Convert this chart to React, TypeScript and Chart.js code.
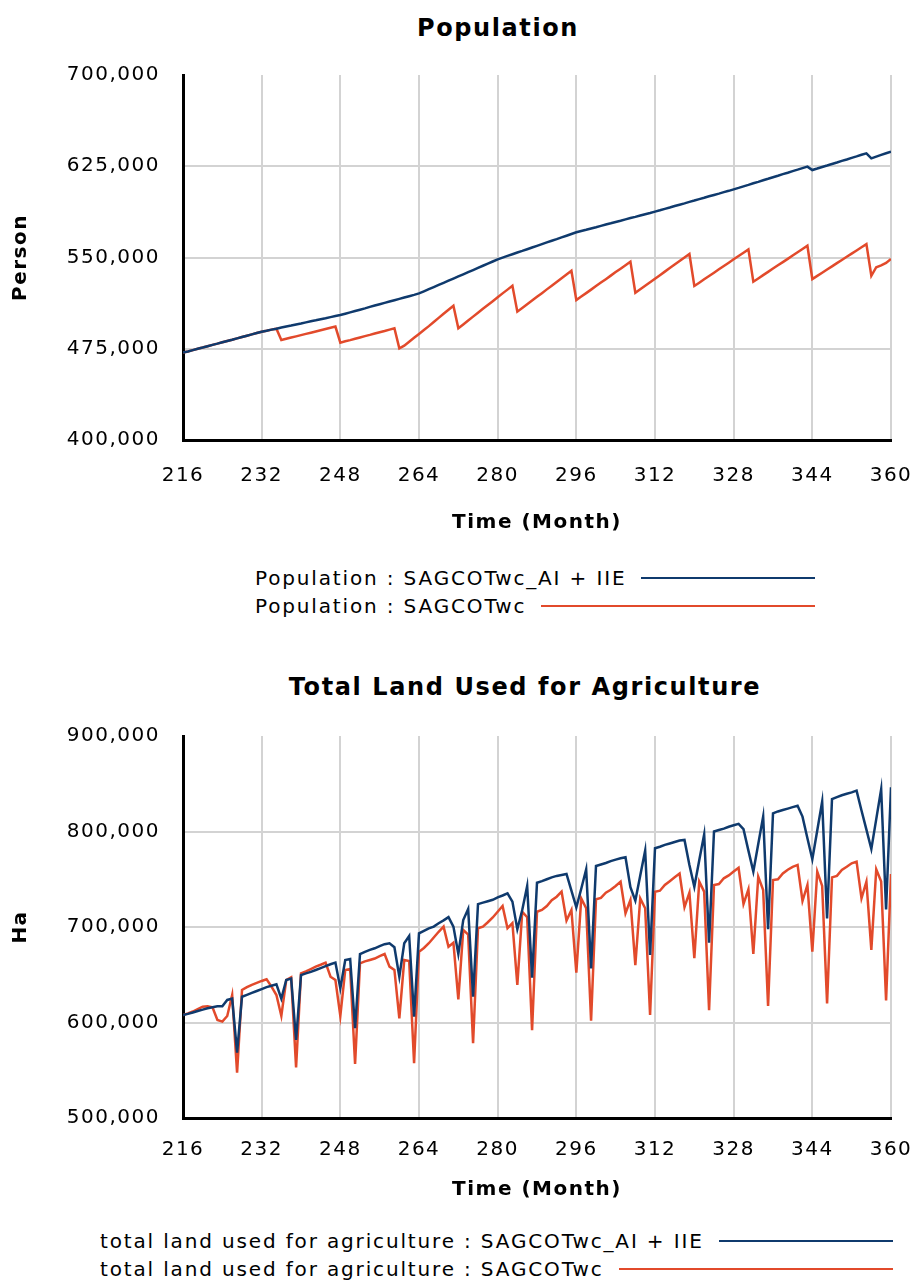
import React, { useEffect, useRef } from "react";
import { Chart, registerables } from "chart.js";

Chart.register(...registerables);

const months: number[] = Array.from({ length: 145 }, (_, i) => 216 + i);
const xTicks = { min: 216, max: 360, step: 16 };

const popWithAI: number[] = [
  471800, 472800, 473900, 475000, 476000, 477100, 478200, 479200, 480300, 481400, 482400, 483500,
  484600, 485700, 486800, 487900, 489000, 489800, 490700, 491500, 492400, 493300, 494100, 495000,
  495800, 496700, 497600, 498400, 499300, 500100, 501000, 501900, 502700, 503800, 504900, 506000,
  507100, 508200, 509400, 510500, 511600, 512700, 513800, 514900, 516000, 517100, 518200, 519300,
  520500, 522200, 524000, 525700, 527500, 529200, 531000, 532700, 534500, 536200, 538000, 539700,
  541500, 543200, 545000, 546700, 548500, 549900, 551300, 552700, 554100, 555400, 556800, 558200,
  559600, 561000, 562400, 563800, 565100, 566500, 567900, 569300, 570700, 571800, 572800, 573900,
  574900, 576000, 577100, 578100, 579200, 580200, 581300, 582400, 583400, 584500, 585600, 586600,
  587700, 588800, 590000, 591100, 592300, 593400, 594500, 595700, 596800, 598000, 599100, 600300,
  601400, 602500, 603700, 604800, 606000, 607200, 608500, 609700, 611000, 612200, 613500, 614700,
  616000, 617200, 618500, 619700, 621000, 622200, 623500, 624700, 621900, 623100, 624400, 625600,
  626900, 628100, 629400, 630600, 631900, 633100, 634400, 635600, 631500, 632900, 634300, 635700,
  637000,
];

const popBase: number[] = [
  471800, 472800, 473900, 475000, 476000, 477100, 478200, 479200, 480300, 481400, 482400, 483500,
  484600, 485700, 486800, 487900, 489000, 489800, 490700, 491500, 482200, 483200, 484200, 485200,
  486200, 487200, 488200, 489200, 490200, 491200, 492200, 493200, 480000, 481100, 482100, 483200,
  484300, 485400, 486400, 487500, 488600, 489600, 490700, 491800, 475300, 477500, 480800, 484000,
  487200, 490400, 493600, 497000, 500400, 503800, 507100, 510400, 491800, 495000, 498200, 501400,
  504600, 507800, 511000, 514100, 517300, 520500, 523600, 526800, 505500, 508500, 511600, 514600,
  517700, 520700, 523800, 526800, 529900, 532900, 536000, 539100, 515000, 517900, 520700, 523600,
  526500, 529400, 532200, 535100, 538000, 540800, 543700, 546600, 521000, 523900, 526800, 529700,
  532600, 535500, 538400, 541300, 544200, 547100, 550000, 552900, 526600, 529300, 532100, 534800,
  537500, 540300, 543000, 545700, 548500, 551200, 553900, 556700, 530100, 532800, 535500, 538200,
  540900, 543600, 546200, 548900, 551600, 554300, 557000, 559700, 532300, 534900, 537500, 540100,
  542700, 545400, 548000, 550600, 553200, 555800, 558400, 561000, 535000, 542000, 543500, 545500,
  548800,
];

const landWithAI: number[] = [
  607800, 609000, 610500, 612000, 613500, 615000, 616000, 617000, 617000, 623600, 625000, 568400,
  627000, 629000, 631000, 633000, 635000, 637000, 638500, 640000, 625000, 644500, 646000, 581700,
  649700, 651500, 653000, 655000, 657000, 659000, 661000, 662700, 635900, 665400, 666500, 594000,
  671700, 674000, 676000, 677700, 680000, 682000, 683000, 678800, 648000, 683000, 690600, 606000,
  693400, 696000, 698500, 700400, 704000, 707000, 710300, 700400, 671700, 707300, 718800, 627000,
  724000, 725500, 727000, 728500, 731000, 733000, 735300, 726600, 697700, 717800, 743000, 647000,
  746400, 748000, 750000, 752000, 753500, 754500, 755500, 738000, 720600, 740000, 760400, 656700,
  763900, 765500, 767000, 769000, 770500, 772000, 773000, 741700, 727600, 754000, 780000, 670700,
  782400, 784000, 786000, 787500, 789000, 790500, 791200, 765000, 742200, 770000, 797000, 683600,
  800000, 801500, 803000, 805000, 806500, 808000, 802400, 780000, 758000, 787000, 815600, 697700,
  819000, 821000, 822500, 824000, 825500, 827000, 815600, 793000, 771000, 801000, 831300, 709000,
  834000, 836000, 838000, 839500, 841000, 842800, 822000, 802000, 781700, 813000, 844200, 718500,
  846300,
];

const landBase: number[] = [
  607800, 609500, 611500, 614000, 616600, 617000, 616000, 602600, 600900, 606800, 628800, 547400,
  634000, 637000, 639500, 641500, 643500, 645200, 637600, 628800, 606800, 644500, 647400, 553000,
  651400, 653500, 656000, 658500, 660500, 662700, 648000, 644500, 606800, 655000, 656000, 556500,
  662000, 664000, 665500, 667000, 669500, 671700, 658500, 655000, 604400, 665400, 664400, 557300,
  674000, 678000, 683000, 689000, 695000, 700400, 679400, 683600, 624300, 696900, 692000, 578300,
  698700, 700400, 705000, 710000, 716000, 722000, 698700, 704000, 639300, 716000, 710200, 592000,
  716000, 717800, 722000, 728000, 731700, 737000, 706700, 717800, 652300, 730000, 719600, 602000,
  729000, 730500, 736000, 739000, 743000, 747500, 714400, 728300, 660000, 730000, 719600, 607800,
  737000, 738000, 744000, 748000, 752000, 756000, 720800, 736000, 667300, 747500, 737000, 613000,
  744000, 745000, 751000, 754000, 758000, 762000, 724000, 739500, 671700, 752700, 738700, 617300,
  749200, 750000, 756000, 760000, 763000, 765000, 727200, 744000, 674200, 758000, 743000, 620000,
  752000, 753500, 759700, 763000, 766700, 768500, 730000, 747500, 676000, 760400, 747500, 623000,
  755500,
];

const BLUE = "#0f3a6d";
const ORANGE = "#e24a2b";
const GRID = "#d3d3d3";
const FONT = "'DejaVu Sans', sans-serif";
const SPACING = "1.5px";

const spacingPlugin = {
  id: "letterSpacing",
  beforeDraw(chart: any) {
    chart.ctx.letterSpacing = SPACING;
  },
  afterDraw(chart: any) {
    chart.ctx.letterSpacing = "0px";
  },
};

type Cfg = {
  dataA: number[];
  dataB: number[];
  labelA: string;
  labelB: string;
  yMin: number;
  yMax: number;
  yStep: number;
  yTitle: string;
  padTop: number;
  padBottom: number;
  xAxisHeight: number;
  xTickPad: number;
};

function makeChart(canvas: HTMLCanvasElement, c: Cfg) {
  return new Chart(canvas, {
    type: "line",
    data: {
      labels: months,
      datasets: [
        { label: c.labelA, data: c.dataA, borderColor: BLUE, backgroundColor: BLUE, borderWidth: 2.5, pointRadius: 0, tension: 0 },
        { label: c.labelB, data: c.dataB, borderColor: ORANGE, backgroundColor: ORANGE, borderWidth: 2.5, pointRadius: 0, tension: 0 },
      ],
    },
    options: {
      responsive: false,
      animation: false,
      devicePixelRatio: 1,
      layout: { padding: { top: c.padTop, right: 31, bottom: c.padBottom, left: 0 } },
      plugins: { legend: { display: false }, title: { display: false }, tooltip: { enabled: false } },
      scales: {
        x: {
          type: "linear",
          min: xTicks.min,
          max: xTicks.max,
          afterFit(scale: any) {
            scale.height = c.xAxisHeight;
            scale.paddingLeft = 0;
            scale.paddingRight = 0;
          },
          ticks: { stepSize: xTicks.step, color: "#000", padding: c.xTickPad, font: { family: FONT, size: 20 }, maxRotation: 0 },
          grid: { color: GRID, lineWidth: 2, drawTicks: false },
          border: { display: true, color: "#000", width: 3 },
          title: { display: true, text: "Time (Month)", color: "#000", font: { family: FONT, size: 20, weight: "bold" }, padding: { top: 0, bottom: 0 } },
        },
        y: {
          min: c.yMin,
          max: c.yMax,
          afterFit(scale: any) {
            scale.width = 183;
            scale.paddingTop = 0;
            scale.paddingBottom = 0;
          },
          ticks: {
            stepSize: c.yStep,
            color: "#000",
            padding: 23,
            font: { family: FONT, size: 20 },
            callback: (v: any) => Number(v).toLocaleString("en-US"),
          },
          grid: {
            lineWidth: 2,
            drawTicks: false,
            color: (ctx: any) => (ctx.tick && ctx.tick.value === c.yMax ? "rgba(0,0,0,0)" : GRID),
          },
          border: { display: true, color: "#000", width: 3 },
          title: { display: true, text: c.yTitle, color: "#000", font: { family: FONT, size: 20, weight: "bold" }, padding: { top: 9, bottom: 0 } },
        },
      },
    },
    plugins: [spacingPlugin],
  } as any);
}

const titleStyle = (cx: number, cy: number): React.CSSProperties => ({
  position: "absolute",
  left: cx,
  top: cy - 15,
  transform: "translateX(-50%)",
  fontFamily: FONT,
  fontWeight: "bold",
  fontSize: 24,
  lineHeight: "30px",
  letterSpacing: "1.6px",
  whiteSpace: "nowrap",
  color: "#000",
});

function LegendRow(props: { left: number; right: number; cy: number; text: string; color: string }) {
  return (
    <div
      style={{
        position: "absolute",
        left: props.left,
        width: props.right - props.left,
        top: props.cy - 13,
        height: 26,
        display: "flex",
        alignItems: "center",
        fontFamily: FONT,
        fontSize: 20,
        letterSpacing: "1.85px",
        whiteSpace: "nowrap",
        color: "#000",
      }}
    >
      <span>{props.text}</span>
      <div style={{ flex: 1, marginLeft: 15, height: 2, background: props.color }} />
    </div>
  );
}

export default function App() {
  const ref1 = useRef<HTMLCanvasElement>(null);
  const ref2 = useRef<HTMLCanvasElement>(null);

  useEffect(() => {
    const c1 = makeChart(ref1.current!, {
      labelA: "Population : SAGCOTwc_AI + IIE",
      labelB: "Population : SAGCOTwc",
      dataA: popWithAI,
      dataB: popBase,
      yMin: 400000,
      yMax: 700000,
      yStep: 75000,
      yTitle: "Person",
      padTop: 75,
      padBottom: 25,
      xAxisHeight: 95,
      xTickPad: 24,
    });
    const c2 = makeChart(ref2.current!, {
      labelA: "total land used for agriculture : SAGCOTwc_AI + IIE",
      labelB: "total land used for agriculture : SAGCOTwc",
      dataA: landWithAI,
      dataB: landBase,
      yMin: 500000,
      yMax: 900000,
      yStep: 100000,
      yTitle: "Ha",
      padTop: 86,
      padBottom: 8,
      xAxisHeight: 84,
      xTickPad: 20,
    });
    return () => {
      c1.destroy();
      c2.destroy();
    };
  }, []);

  return (
    <div style={{ position: "absolute", left: 0, top: 0, width: 922, height: 1284, background: "#fff", overflow: "hidden" }}>
      <div style={titleStyle(498, 28)}>Population</div>
      <canvas ref={ref1} width={922} height={560} style={{ position: "absolute", left: 0, top: 0 }} />
      <LegendRow left={255} right={815} cy={578} text="Population : SAGCOTwc_AI + IIE" color={BLUE} />
      <LegendRow left={255} right={815} cy={606} text="Population : SAGCOTwc" color={ORANGE} />
      <div style={titleStyle(525, 687)}>Total Land Used for Agriculture</div>
      <canvas ref={ref2} width={922} height={560} style={{ position: "absolute", left: 0, top: 650 }} />
      <LegendRow left={100} right={893} cy={1241} text="total land used for agriculture : SAGCOTwc_AI + IIE" color={BLUE} />
      <LegendRow left={100} right={893} cy={1269} text="total land used for agriculture : SAGCOTwc" color={ORANGE} />
    </div>
  );
}
